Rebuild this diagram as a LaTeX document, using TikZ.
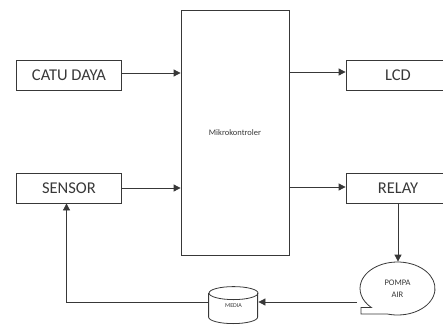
\documentclass[tikz,border=0pt]{standalone}
\usepackage{fontspec}
\setmainfont{Carlito}
\usetikzlibrary{arrows.meta,shapes.geometric}

\begin{document}
\begin{tikzpicture}[x=1pt,y=1pt,line width=0.8pt,color=black!78,
  block/.style={rectangle,draw,minimum width=105pt,minimum height=30pt,inner sep=0pt,font=\fontsize{16.5}{18}\selectfont},
  main node/.style={rectangle,draw,minimum width=108pt,minimum height=245pt,inner sep=0pt,font=\fontsize{8.5}{10}\selectfont}]
\tikzstyle{flow} = [draw,-{Triangle[length=7pt,width=7pt]}]
\clip (0,0) rectangle (443,325);

% Blocks
\node[block] (catu) at (69,250) {CATU DAYA};
\node[block] (sensor) at (69,137) {SENSOR};
\node[main node] (mikro) at (235,192.5) {Mikrokontroler};
\node[block,minimum width=104pt] (lcd) at (398,250) {LCD};
\node[block,minimum width=104pt] (relay) at (398,137) {RELAY};
\node[ellipse,minimum width=75pt,minimum height=53pt,inner sep=0pt,align=center,font=\fontsize{8.5}{9}\selectfont] (pompa) at (397.5,36.5) {POMPA\\[3pt]AIR};
\node[rectangle,minimum width=49pt,minimum height=37pt,inner sep=0pt,font=\fontsize{6}{6}\selectfont] (media) at (233.5,19.5) {MEDIA};

% Draw pump callout
\draw (pompa.center) ++(254:37.5 and 26.5) arc[start angle=254,end angle=586,x radius=37.5,y radius=26.5] -- ++(-10.5,0) -- ++(0,-6.4) -- cycle;

% Draw media cylinder
\draw (media.north west) ++(0,-6.5) -- ++(0,-24) arc[start angle=180,end angle=360,x radius=24.5,y radius=6.5] -- ++(0,24);
\draw (media.north) ++(0,-6.5) ellipse[x radius=24.5,y radius=6.5];

% Connections
\draw[flow] ([yshift=2pt]catu.east) -- ([yshift=2pt]catu.east -| mikro.west);
\draw[flow] (sensor.east) -- (sensor.east -| mikro.west);
\draw[flow] ([yshift=3pt]mikro.east |- lcd.west) -- ([yshift=3pt]lcd.west);
\draw[flow] ([yshift=1pt]mikro.east |- relay.west) -- ([yshift=1pt]relay.west);
\draw[flow] (relay.south) -- (relay.south |- pompa.north);
\coordinate (pumpout) at (357,23);
\draw[flow] (pumpout) -- (pumpout -| media.east);
\draw[flow] ([yshift=3.5pt]media.west) -| ([xshift=-2.5pt]sensor.south);

\end{tikzpicture}
\end{document}
